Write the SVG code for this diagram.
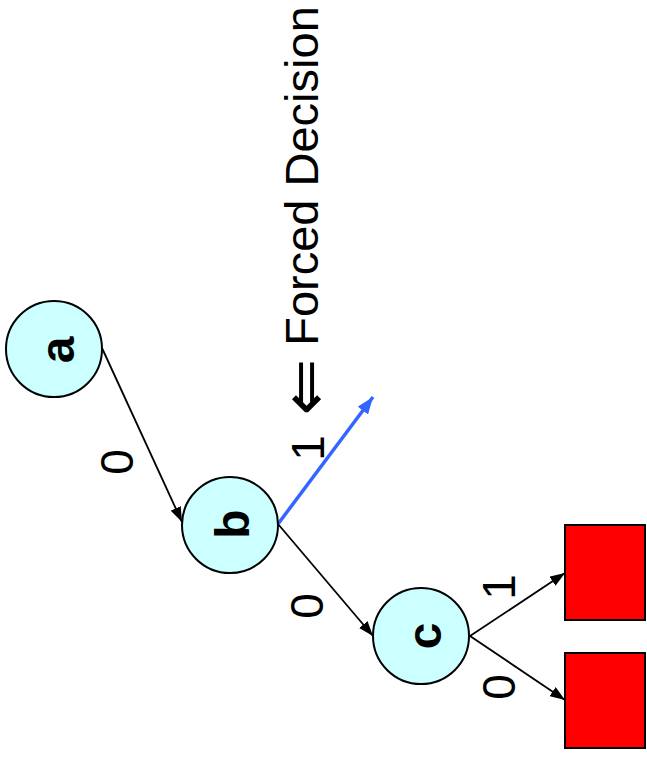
<svg xmlns="http://www.w3.org/2000/svg" width="647" height="757" viewBox="0 0 647 757">
<style>
.node circle{fill:#CCFFFF;stroke:#000;stroke-width:2}
.node text{font-family:"Liberation Sans",Arial,sans-serif;font-weight:bold;font-size:48px;text-anchor:middle;fill:#000}
.leaf rect{fill:#FF0000;stroke:#000;stroke-width:2}
.lbl{font-family:"Liberation Sans",Arial,sans-serif;font-size:46px;text-anchor:middle;fill:#000}
.edge{fill:none;stroke:#000;stroke-width:1.8}
.forced{fill:none;stroke:#3366FF;stroke-width:3.5}
</style>
<defs>
<marker id="ah" viewBox="0 0 15 11" refX="15" refY="5.5" markerWidth="15" markerHeight="11" markerUnits="userSpaceOnUse" orient="auto">
<path d="M0,0 L15,5.5 L0,11 z" fill="#000"/>
</marker>
<marker id="ahb" viewBox="0 0 17 13" refX="17" refY="6.5" markerWidth="17" markerHeight="13" markerUnits="userSpaceOnUse" orient="auto">
<path d="M0,0 L17,6.5 L0,13 z" fill="#3366FF"/>
</marker>
</defs>
<g id="connectors">
<path class="edge" d="M102,348 L182,522" marker-end="url(#ah)"/>
<path class="edge" d="M278,524 L373,636" marker-end="url(#ah)"/>
<path class="forced" d="M278,524 L373,397" marker-end="url(#ahb)"/>
<path class="edge" d="M470,636 L565,573" marker-end="url(#ah)"/>
<path class="edge" d="M470,636 L565,700" marker-end="url(#ah)"/>
</g>
<g id="labels">
<text class="lbl" transform="translate(133,462) rotate(-90)">0</text>
<text class="lbl" transform="translate(324,448) rotate(-90)">1</text>
<text class="lbl" transform="translate(323,606) rotate(-90)">0</text>
<text class="lbl" transform="translate(515,587) rotate(-90)">1</text>
<text class="lbl" transform="translate(515,687) rotate(-90)">0</text>
</g>
<g id="forced-label">
<text transform="translate(328,387) rotate(-90)" style="font-family:'DejaVu Sans',sans-serif;font-size:68px;text-anchor:middle">⇐</text>
<text transform="translate(318,176) rotate(-90)" style="font-family:'Liberation Sans',Arial,sans-serif;font-size:47px;text-anchor:middle">Forced Decision</text>
</g>
<g id="node-a" class="node"><circle cx="54" cy="349" r="48"/><text transform="translate(74,350) rotate(-90)">a</text></g>
<g id="node-b" class="node"><circle cx="230" cy="525" r="48"/><text transform="translate(249,524) rotate(-90)">b</text></g>
<g id="node-c" class="node"><circle cx="421" cy="636" r="48"/><text transform="translate(441,636) rotate(-90)">c</text></g>
<g id="leaf-1" class="leaf"><rect x="565" y="525" width="80" height="95"/></g>
<g id="leaf-0" class="leaf"><rect x="565" y="653" width="80" height="95"/></g>
</svg>
